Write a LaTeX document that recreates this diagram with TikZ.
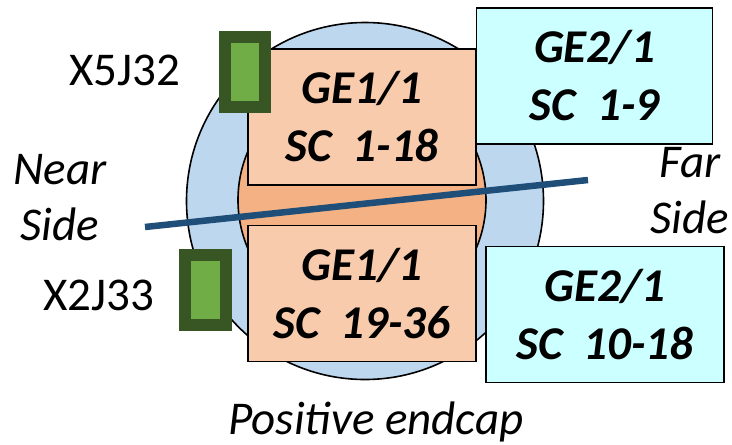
\documentclass[tikz,border=0pt]{standalone}
\usepackage{fontspec}
\setmainfont{Carlito}
\usetikzlibrary{positioning}
\definecolor{ringblue}{HTML}{BDD7EE}
\definecolor{coreorange}{HTML}{F4B183}
\definecolor{peach}{HTML}{F8CBAD}
\definecolor{paleaqua}{HTML}{CCFFFF}
\definecolor{lineblue}{HTML}{1F4E79}
\definecolor{connfill}{HTML}{70AD47}
\definecolor{connedge}{HTML}{375623}
\tikzset{
x=1pt, y=-1pt, % one unit is one pixel of the layout
chamber/.style={draw, line width=1.2pt, minimum width=228pt, minimum height=136pt, inner sep=0pt, align=center, font=\fontsize{47}{58}\selectfont\bfseries\itshape}, % the GE boxes
ge11/.style={chamber, fill=peach}, % GE1/1 halves
ge21/.style={chamber, fill=paleaqua, minimum width=236pt}, % GE2/1 halves
conn/.style={draw=connedge, fill=connfill, line width=12pt, minimum width=40pt, minimum height=70pt, inner sep=0pt}, % connectors
lbl/.style={font=\fontsize{47}{56}\selectfont}, % connector names
sidelbl/.style={align=center, font=\fontsize{47}{56}\selectfont\itshape}, % near / far
}

\begin{document}
\begin{tikzpicture}
\useasboundingbox (0,0) rectangle (732,445);

\node[circle, draw, line width=1.6pt, fill=ringblue, minimum size=357pt, inner sep=0pt] (ring) at (365,201) {};
\node[circle, draw, line width=1.6pt, fill=coreorange, minimum size=248pt, inner sep=0pt] (core) at (362,200) {};

\coordinate (nearend) at (145,227);
\coordinate (farend) at (588,180);
\draw[lineblue, line width=6.5pt] (nearend) -- (farend);

\node[ge11] (ge11top) at (362,117) {GE1/1\\SC~~1-18};
\node[ge11] (ge11bot) at (362,293.5) {GE1/1\\SC~~19-36};
\node[ge21] (ge21top) at (594.5,76) {GE2/1\\SC~~1-9};
\node[ge21, minimum width=238pt] (ge21bot) at (605,314.5) {GE2/1\\SC~~10-18};

\node[conn] (x5) at (245,72) {};
\node[conn, minimum width=41pt] (x2) at (205.5,290) {};

\node[lbl, anchor=base] (x5name) at (125,85) {X5J32};
\node[lbl, anchor=base] (x2name) at (99,310) {X2J33};
\node[sidelbl] (near) at (60,198) {Near\\Side};
\node[sidelbl] (far) at (690,191) {Far\\Side};
\node[sidelbl, anchor=base] (endcap) at (376,434) {Positive endcap};
\end{tikzpicture}
\end{document}
